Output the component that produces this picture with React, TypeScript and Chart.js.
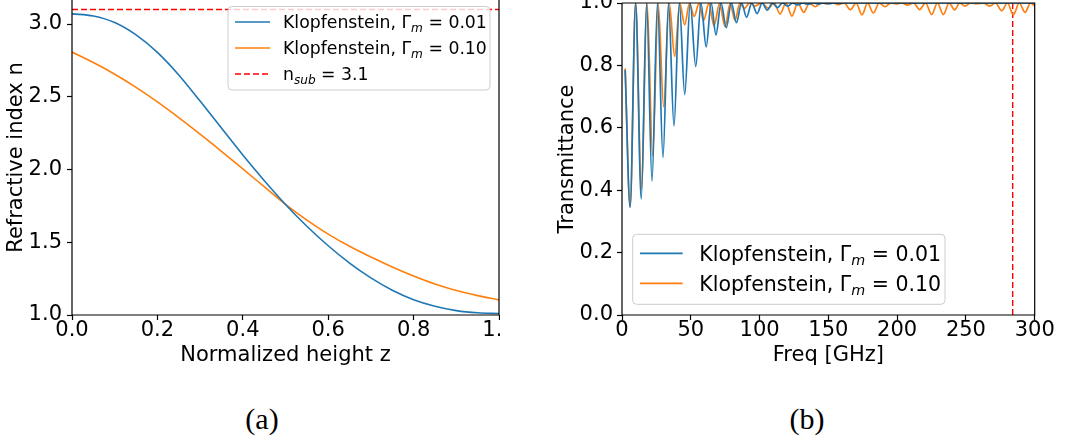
import React, { useEffect, useRef } from "react";
import { Chart, registerables } from "chart.js";

Chart.register(...registerables);

// ---------- Panel (a): refractive index profile ----------
const Z_VALUES = [0, 0.05, 0.1, 0.15, 0.2, 0.25, 0.3, 0.35, 0.4, 0.45, 0.5, 0.55, 0.6, 0.65, 0.7, 0.75, 0.8, 0.85, 0.9, 0.95, 1.0];
const N_KLOPF_001 = [3.070, 3.055, 3.010, 2.925, 2.805, 2.650, 2.470, 2.285, 2.100, 1.925, 1.760, 1.610, 1.476, 1.357, 1.255, 1.170, 1.105, 1.060, 1.030, 1.015, 1.010];
const N_KLOPF_010 = [2.807, 2.735, 2.655, 2.565, 2.465, 2.357, 2.243, 2.125, 2.004, 1.882, 1.760, 1.652, 1.556, 1.472, 1.398, 1.330, 1.268, 1.213, 1.168, 1.133, 1.103];
const N_SUB = 3.1;
const Z_TICKS = [0, 0.2, 0.4, 0.6, 0.8, 1.0];
const N_TICKS = [1.0, 1.5, 2.0, 2.5, 3.0];

// ---------- Panel (b): transmittance ----------
const FREQ_001 = [2.3, 5.9, 9.9, 14.0, 17.9, 21.8, 25.8, 29.8, 33.8, 37.8, 41.7, 45.6, 49.6, 53.6, 57.4, 61.2, 64.8, 68.3, 72.0, 75.8, 79.5, 83.2, 86.9, 90.6, 94.3, 98.2, 101.9, 105.6, 109.3, 113.0, 116.7, 120.4, 124.1, 127.8, 131.5, 135.2, 139.0, 142.7, 146.5, 150.3, 154.1, 158.0, 162.0, 300.0];
const T_001 = [0.785, 0.345, 1.0, 0.372, 1.0, 0.429, 1.0, 0.505, 1.0, 0.606, 1.0, 0.707, 1.0, 0.796, 1.0, 0.859, 1.0, 0.898, 1.0, 0.921, 1.0, 0.937, 1.0, 0.954, 1.0, 0.966, 1.0, 0.977, 1.0, 0.985, 1.0, 0.990, 1.0, 0.994, 1.0, 0.996, 1.0, 0.997, 1.0, 0.998, 1.0, 0.999, 1.0, 1.0];
const FREQ_010 = [2.3, 5.9, 9.9, 14.1, 18.2, 22.3, 26.3, 30.3, 34.3, 38.3, 42.0, 45.6, 49.0, 52.5, 56.0, 59.3, 63.1, 66.9, 70.9, 74.9, 78.6, 82.2, 85.6, 88.9, 92.8, 96.7, 101.5, 106.3, 110.6, 114.9, 119.2, 123.5, 127.8, 132.1, 136.3, 140.5, 144.7, 148.9, 153.0, 157.3, 161.5, 166.0, 170.2, 174.5, 178.5, 182.7, 187.0, 191.2, 195.5, 199.6, 203.5, 207.5, 212.0, 216.3, 220.7, 225.1, 229.3, 233.6, 237.8, 241.8, 245.5, 249.3, 253.5, 258.0, 262.5, 267.3, 271.5, 276.0, 280.2, 284.5, 288.7, 293.0, 297.0, 300.0];
const T_010 = [0.79, 0.347, 1.0, 0.404, 1.0, 0.511, 1.0, 0.667, 1.0, 0.829, 0.999, 0.930, 0.998, 0.957, 0.998, 0.944, 0.998, 0.927, 0.998, 0.925, 0.998, 0.944, 0.999, 0.983, 1.0, 0.990, 1.0, 0.983, 1.0, 0.965, 1.0, 0.958, 1.0, 0.970, 1.0, 0.988, 1.0, 0.997, 1.0, 0.995, 1.0, 0.978, 1.0, 0.962, 1.0, 0.968, 1.0, 0.988, 1.0, 0.997, 1.0, 0.993, 1.0, 0.979, 1.0, 0.963, 1.0, 0.963, 1.0, 0.978, 1.0, 0.990, 1.0, 0.998, 1.0, 0.990, 1.0, 0.975, 1.0, 0.962, 1.0, 0.970, 1.0, 0.990];
const F_CUTOFF = 284;
const FREQ_TICKS = [0, 50, 100, 150, 200, 250, 300];
const T_TICKS = [0, 0.2, 0.4, 0.6, 0.8, 1.0];

const FONT = '"DejaVu Sans", sans-serif';
const BLUE = "#1f77b4";
const ORANGE = "#ff7f0e";
const RED = "#ff0000";

type Part = { t: string; sub?: boolean };
const LBL_001: Part[] = [{ t: "Klopfenstein, Γ" }, { t: "m", sub: true }, { t: " = 0.01" }];
const LBL_010: Part[] = [{ t: "Klopfenstein, Γ" }, { t: "m", sub: true }, { t: " = 0.10" }];
const LBL_SUB: Part[] = [{ t: "n" }, { t: "sub", sub: true }, { t: " = 3.1" }];

function drawRich(ctx: CanvasRenderingContext2D, parts: Part[], x: number, yMid: number, size: number) {
  const base = yMid + size * 0.36;
  let cx = x;
  ctx.fillStyle = "#000";
  ctx.textAlign = "left";
  ctx.textBaseline = "alphabetic";
  for (const p of parts) {
    if (p.sub) {
      ctx.font = `italic ${size * 0.7}px ${FONT}`;
      ctx.fillText(p.t, cx, base + size * 0.22);
    } else {
      ctx.font = `${size}px ${FONT}`;
      ctx.fillText(p.t, cx, base);
    }
    cx += ctx.measureText(p.t).width;
  }
}

const framePlugin = {
  id: "frame",
  afterDatasetsDraw(chart: any, _args: any, opts: any) {
    const { ctx, chartArea } = chart;
    const { left, right, top, bottom } = chartArea;
    ctx.save();
    ctx.strokeStyle = "#000";
    ctx.lineWidth = 1.2;
    ctx.beginPath();
    ctx.moveTo(left, top);
    ctx.lineTo(left, bottom);
    ctx.lineTo(right, bottom);
    ctx.lineTo(right, top);
    if (opts && opts.top) ctx.lineTo(left, top);
    ctx.stroke();
    ctx.restore();
  },
};

const richLegendPlugin = {
  id: "richLegend",
  afterDatasetsDraw(chart: any, _args: any, opts: any) {
    if (!opts || !opts.items) return;
    const ctx: CanvasRenderingContext2D = chart.ctx;
    const { x, y, w, h, r, rows, lineX1, lineX2, textX, size, items } = opts;
    ctx.save();
    ctx.beginPath();
    ctx.moveTo(x + r, y);
    ctx.lineTo(x + w - r, y);
    ctx.arcTo(x + w, y, x + w, y + r, r);
    ctx.lineTo(x + w, y + h - r);
    ctx.arcTo(x + w, y + h, x + w - r, y + h, r);
    ctx.lineTo(x + r, y + h);
    ctx.arcTo(x, y + h, x, y + h - r, r);
    ctx.lineTo(x, y + r);
    ctx.arcTo(x, y, x + r, y, r);
    ctx.closePath();
    ctx.fillStyle = "rgba(255,255,255,0.8)";
    ctx.fill();
    ctx.strokeStyle = "#cccccc";
    ctx.lineWidth = 1;
    ctx.stroke();
    items.forEach((it: any, i: number) => {
      const ry = rows[i];
      ctx.beginPath();
      ctx.setLineDash(it.dash || []);
      ctx.strokeStyle = it.color;
      ctx.lineWidth = it.width;
      ctx.moveTo(lineX1, ry);
      ctx.lineTo(lineX2, ry);
      ctx.stroke();
      ctx.setLineDash([]);
      drawRich(ctx, it.parts, textX, ry, size);
    });
    ctx.restore();
  },
};

const tickFont = { family: FONT, size: 21, lineHeight: 1 };
const titleFont = { family: FONT, size: 21 };
const gridOpts = {
  display: true,
  drawOnChartArea: false,
  drawTicks: true,
  tickLength: 5,
  tickColor: "#000",
  tickWidth: 1.2,
};

function setTicks(values: number[]) {
  return (s: any) => {
    s.ticks = values.map((v) => ({ value: v }));
  };
}

function ChartCanvas({ config, style }: { config: any; style: React.CSSProperties }) {
  const ref = useRef<HTMLCanvasElement | null>(null);
  useEffect(() => {
    if (!ref.current) return;
    const chart = new Chart(ref.current, config);
    return () => chart.destroy();
  }, []);
  return <canvas ref={ref} width={style.width as number} height={style.height as number} style={style} />;
}

const leftConfig = {
  type: "line",
  data: {
    datasets: [
      {
        label: "Klopfenstein, Γm = 0.01",
        data: Z_VALUES.map((z, i) => ({ x: z, y: N_KLOPF_001[i] })),
        borderColor: BLUE,
        borderWidth: 1.6,
        pointRadius: 0,
        cubicInterpolationMode: "monotone",
        fill: false,
      },
      {
        label: "Klopfenstein, Γm = 0.10",
        data: Z_VALUES.map((z, i) => ({ x: z, y: N_KLOPF_010[i] })),
        borderColor: ORANGE,
        borderWidth: 1.6,
        pointRadius: 0,
        cubicInterpolationMode: "monotone",
        fill: false,
      },
      {
        label: "n_sub = 3.1",
        data: [
          { x: 0, y: N_SUB },
          { x: 1, y: N_SUB },
        ],
        borderColor: RED,
        borderWidth: 1.4,
        borderDash: [6, 3],
        pointRadius: 0,
        tension: 0,
        fill: false,
      },
    ],
  },
  options: {
    responsive: false,
    animation: false,
    devicePixelRatio: 1,
    layout: { padding: { left: 0, right: 1, top: 0, bottom: 0 } },
    plugins: {
      legend: { display: false },
      tooltip: { enabled: false },
      frame: { top: false },
      richLegend: {
        x: 228,
        y: 6.5,
        w: 262,
        h: 83.5,
        r: 4,
        rows: [22, 48, 74],
        lineX1: 235,
        lineX2: 270,
        textX: 283,
        size: 17.3,
        items: [
          { color: BLUE, width: 1.6, parts: LBL_001 },
          { color: ORANGE, width: 1.6, parts: LBL_010 },
          { color: RED, width: 1.4, dash: [6, 3], parts: LBL_SUB },
        ],
      },
    },
    scales: {
      x: {
        type: "linear",
        min: 0,
        max: 1,
        afterBuildTicks: setTicks(Z_TICKS),
        ticks: {
          callback: (v: any) => Number(v).toFixed(1),
          font: tickFont,
          color: "#000",
          padding: 0,
          maxRotation: 0,
          autoSkip: false,
        },
        grid: gridOpts,
        border: { display: false },
        title: { display: true, text: "Normalized height z", font: titleFont, color: "#000", padding: { top: 4, bottom: 4 } },
        afterFit: (s: any) => {
          s.height = 57;
          s.paddingLeft = 0;
          s.paddingRight = 0;
        },
      },
      y: {
        type: "linear",
        min: 1.0,
        max: 3.165,
        afterBuildTicks: setTicks(N_TICKS),
        ticks: {
          callback: (v: any) => Number(v).toFixed(1),
          font: tickFont,
          color: "#000",
          padding: 5,
          autoSkip: false,
        },
        grid: gridOpts,
        border: { display: false },
        title: { display: true, text: "Refractive index n", font: titleFont, color: "#000", padding: { top: 4, bottom: 4 } },
        afterFit: (s: any) => {
          s.width = 72;
          s.paddingTop = 0;
          s.paddingBottom = 0;
        },
      },
    },
  },
  plugins: [framePlugin, richLegendPlugin],
};

const rightConfig = {
  type: "line",
  data: {
    datasets: [
      {
        label: "Klopfenstein, Γm = 0.01",
        data: FREQ_001.map((f, i) => ({ x: f, y: T_001[i] })),
        borderColor: BLUE,
        borderWidth: 1.7,
        pointRadius: 0,
        cubicInterpolationMode: "monotone",
        fill: false,
      },
      {
        label: "Klopfenstein, Γm = 0.10",
        data: FREQ_010.map((f, i) => ({ x: f, y: T_010[i] })),
        borderColor: ORANGE,
        borderWidth: 1.7,
        pointRadius: 0,
        cubicInterpolationMode: "monotone",
        fill: false,
      },
      {
        label: "cutoff",
        data: [
          { x: F_CUTOFF, y: 0 },
          { x: F_CUTOFF, y: 1 },
        ],
        borderColor: RED,
        borderWidth: 1.4,
        borderDash: [6, 3],
        pointRadius: 0,
        tension: 0,
        fill: false,
      },
    ],
  },
  options: {
    responsive: false,
    animation: false,
    devicePixelRatio: 1,
    layout: { padding: { left: 0, right: 41.3, top: 3, bottom: 0 } },
    plugins: {
      legend: { display: false },
      tooltip: { enabled: false },
      frame: { top: true },
      richLegend: {
        x: 81.7,
        y: 234.3,
        w: 312.3,
        h: 70,
        r: 4,
        rows: [253.3, 283.3],
        lineX1: 89,
        lineX2: 131.7,
        textX: 148.3,
        size: 20.5,
        items: [
          { color: BLUE, width: 1.7, parts: LBL_001 },
          { color: ORANGE, width: 1.7, parts: LBL_010 },
        ],
      },
    },
    scales: {
      x: {
        type: "linear",
        min: 0,
        max: 300,
        afterBuildTicks: setTicks(FREQ_TICKS),
        ticks: {
          callback: (v: any) => String(Math.round(Number(v))),
          font: tickFont,
          color: "#000",
          padding: 0,
          maxRotation: 0,
          autoSkip: false,
        },
        grid: gridOpts,
        border: { display: false },
        title: { display: true, text: "Freq [GHz]", font: titleFont, color: "#000", padding: { top: 4, bottom: 4 } },
        afterFit: (s: any) => {
          s.height = 57;
          s.paddingLeft = 0;
          s.paddingRight = 0;
        },
      },
      y: {
        type: "linear",
        min: 0,
        max: 1,
        afterBuildTicks: setTicks(T_TICKS),
        ticks: {
          callback: (v: any) => Number(v).toFixed(1),
          font: tickFont,
          color: "#000",
          padding: 4,
          autoSkip: false,
        },
        grid: gridOpts,
        border: { display: false },
        title: { display: true, text: "Transmittance", font: titleFont, color: "#000", padding: { top: 4, bottom: 4 } },
        afterFit: (s: any) => {
          s.width = 71;
          s.paddingTop = 0;
          s.paddingBottom = 0;
        },
      },
    },
  },
  plugins: [framePlugin, richLegendPlugin],
};

const captionStyle: React.CSSProperties = {
  position: "absolute",
  width: 100,
  textAlign: "center",
  fontFamily: '"Liberation Serif", "DejaVu Serif", serif',
  fontSize: 30,
  lineHeight: "30px",
  color: "#000",
};

export default function App() {
  return (
    <div style={{ position: "absolute", left: 0, top: 0, width: 1076, height: 442, background: "#fff", overflow: "hidden" }}>
      <ChartCanvas config={leftConfig} style={{ position: "absolute", left: 0, top: 0, width: 500, height: 372 }} />
      <ChartCanvas config={rightConfig} style={{ position: "absolute", left: 551, top: 0, width: 525, height: 372 }} />
      <div style={{ ...captionStyle, left: 212, top: 404 }}>(a)</div>
      <div style={{ ...captionStyle, left: 757, top: 404 }}>(b)</div>
    </div>
  );
}
